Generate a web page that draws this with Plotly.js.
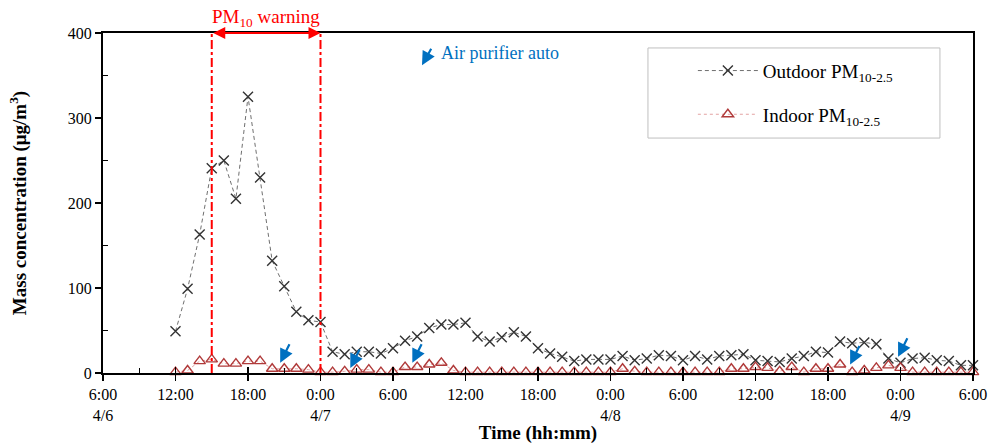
<!DOCTYPE html>
<html><head><meta charset="utf-8">
<script src="https://cdn.plot.ly/plotly-3.0.1.min.js"></script>
<style>html,body{margin:0;padding:0;background:#fff}#chart{width:993px;height:444px}</style>
</head><body><div id="chart"></div>
<script>
// Hourly observations from 4/6 12:00 to 4/9 6:00
const firstObservation = '2020-04-06 12:00';
const outdoorPM = [
  49, 99, 163, 241, 250, 205, 325, 230, 132, 102, 72, 62,
  60, 25, 22, 25, 25, 23, 29, 38, 43, 53, 57, 57, 59, 43, 37, 42, 48, 43, 29, 23, 19, 14, 16, 16,
  16, 20, 15, 17, 21, 20, 15, 20, 16, 20, 21, 22, 15, 14, 13, 17, 20, 25, 24, 37, 35, 36, 34, 17,
  12, 17, 18, 15, 14, 9, 9
];
const indoorPM = [
  1, 3, 14, 16, 11, 11, 14, 14, 5, 5, 5, 4,
  1, 1, 2, 4, 4, 1, 1, 7, 7, 10, 12, 3, 1, 1, 1, 1, 1, 1, 1, 1, 1, 1, 1, 1,
  1, 5, 2, 1, 1, 1, 1, 1, 1, 1, 5, 5, 7, 6, 2, 7, 1, 5, 5, 10, 1, 3, 6, 9,
  6, 1, 1, 1, 1, 1, 1
];
const tickTimes = ['2020-04-06 06:00','2020-04-06 12:00','2020-04-06 18:00','2020-04-07 00:00','2020-04-07 06:00','2020-04-07 12:00','2020-04-07 18:00','2020-04-08 00:00','2020-04-08 06:00','2020-04-08 12:00','2020-04-08 18:00','2020-04-09 00:00','2020-04-09 06:00'];
const tickLabels = ['6:00<br>4/6','12:00','18:00','0:00<br>4/7','6:00','12:00','18:00','0:00<br>4/8','6:00','12:00','18:00','0:00<br>4/9','6:00'];
const minorTickTimes = ['2020-04-06 09:00','2020-04-06 15:00','2020-04-06 21:00','2020-04-07 03:00','2020-04-07 09:00','2020-04-07 15:00','2020-04-07 21:00','2020-04-08 03:00','2020-04-08 09:00','2020-04-08 15:00','2020-04-08 21:00','2020-04-09 03:00'];
const warningStart = '2020-04-06 15:00';
const warningEnd = '2020-04-07 00:00';
const purifierTimes = ['2020-04-06 20:40','2020-04-07 02:28','2020-04-07 07:36','2020-04-08 19:50','2020-04-08 23:48'];
const purifierLevels = [12, 6, 12, 10, 19];
const purifierKeyTime = '2020-04-07 08:24';
const purifierKeyLevel = 362;

function pad(n){return (n<10?'0':'')+n;}
function hourlyTimes(start, n){
  const p = start.split(/[- :]/).map(Number);
  const t0 = Date.UTC(p[0], p[1]-1, p[2], p[3], p[4]);
  const out = [];
  for (let i=0;i<n;i++){
    const d = new Date(t0 + i*3600000);
    out.push(d.getUTCFullYear()+'-'+pad(d.getUTCMonth()+1)+'-'+pad(d.getUTCDate())+' '+pad(d.getUTCHours())+':'+pad(d.getUTCMinutes()));
  }
  return out;
}
const times = hourlyTimes(firstObservation, outdoorPM.length);

const FONT = 'Liberation Serif, Times New Roman, serif';
const BLUE = '#0070C0';
const RED = '#FF0000';

const traces = [
  {x: times, y: outdoorPM, type:'scatter', mode:'lines+markers', name:'Outdoor PM<sub>10-2.5</sub>',
   legendgroup:'a', cliponaxis:false,
   line:{color:'#6f6f6f', width:1, dash:'4px,3px'},
   marker:{symbol:'x-thin-open', size:10, line:{color:'#333333', width:1.4}, color:'#333333'}},
  {x: times, y: indoorPM, type:'scatter', mode:'lines+markers', name:'Indoor PM<sub>10-2.5</sub>',
   legendgroup:'b', cliponaxis:false,
   line:{color:'#E3A3A3', width:1, dash:'dot'},
   marker:{symbol:'triangle-up-open', size:10, line:{color:'#B03A3A', width:1.4}, color:'#B03A3A'}},
  {x: [tickTimes[0]], y: [0], xaxis:'x2', type:'scatter', mode:'markers', showlegend:false,
   hoverinfo:'skip', marker:{opacity:0}}
];

const annotations = [];
purifierTimes.forEach((t,i)=>{
  annotations.push({x:t, y:purifierLevels[i], xref:'x', yref:'y', text:'', showarrow:true,
    ax:10, ay:-20, arrowhead:2, arrowsize:1.25, arrowwidth:2.2, arrowcolor:BLUE, standoff:0});
});
annotations.push({x:purifierKeyTime, y:purifierKeyLevel, xref:'x', yref:'y', text:'', showarrow:true,
  ax:10, ay:-18, arrowhead:2, arrowsize:1.25, arrowwidth:2.2, arrowcolor:BLUE, standoff:0});
annotations.push({x:purifierKeyTime, y:purifierKeyLevel, xref:'x', yref:'y', xanchor:'left', yanchor:'middle',
  xshift:17, yshift:12, text:'Air purifier auto', showarrow:false, font:{family:FONT, size:18, color:BLUE}});
annotations.push({x:warningEnd, y:400, ax:warningStart, ay:400, xref:'x', yref:'y', axref:'x', ayref:'y',
  text:'', showarrow:true, arrowside:'end+start', arrowhead:2, arrowsize:1.2, arrowwidth:2, arrowcolor:RED, standoff:0, startstandoff:0});
annotations.push({x:'2020-04-06 19:30', y:1, xref:'x', yref:'paper', yanchor:'bottom', yshift:1,
  text:'PM<sub>10</sub> warning', showarrow:false, font:{family:FONT, size:19, color:RED}});

const shapes = [
  {type:'line', xref:'x', yref:'y', x0:warningStart, x1:warningStart, y0:0, y1:400, line:{color:RED, width:2, dash:'dashdot'}},
  {type:'line', xref:'x', yref:'y', x0:warningEnd, x1:warningEnd, y0:0, y1:400, line:{color:RED, width:2, dash:'dashdot'}},
  {type:'rect', xref:'paper', yref:'paper', x0:0.6264, x1:0.962, y0:0.691, y1:0.956, line:{color:'#bfbfbf', width:1}, fillcolor:'rgba(0,0,0,0)', layer:'below'}
];

const layout = {
  width:993, height:444,
  margin:{l:103, r:20, t:33, b:71},
  paper_bgcolor:'#fff', plot_bgcolor:'#fff',
  font:{family:FONT, size:16, color:'#000'},
  showlegend:true,
  legend:{x:0.678, y:0.945, xanchor:'left', yanchor:'top', bgcolor:'rgba(0,0,0,0)', borderwidth:0,
    font:{family:FONT, size:19, color:'#000'}, itemwidth:60, tracegroupgap:16},
  xaxis:{type:'date', range:['2020-04-06 06:00','2020-04-09 06:00'], tickmode:'array', tickvals:tickTimes, ticktext:tickLabels,
    ticks:'outside', ticklen:6, tickwidth:1.5, tickcolor:'#000', showgrid:false, zeroline:false,
    showline:true, linecolor:'#000', linewidth:2, mirror:true,
    minor:{tickmode:'array', tickvals:minorTickTimes, ticks:'inside', ticklen:5, tickwidth:1.2, tickcolor:'#000', showgrid:false},
    tickfont:{family:FONT, size:16, color:'#000'},
    title:{text:'<b>Time (hh:mm)</b>', font:{family:FONT, size:19, color:'#000'}, standoff:2}},
  xaxis2:{type:'date', overlaying:'x', anchor:'y', side:'bottom', range:['2020-04-06 06:00','2020-04-09 06:00'],
    tickmode:'array', tickvals:tickTimes, ticks:'inside', ticklen:6, tickwidth:1.5, tickcolor:'#000',
    showticklabels:false, showgrid:false, zeroline:false, showline:false},
  yaxis:{range:[0,400], tickmode:'array', tickvals:[0,100,200,300,400], ticks:'outside', ticklen:6, tickwidth:1.5, tickcolor:'#000',
    showgrid:false, zeroline:false, showline:true, linecolor:'#000', linewidth:2, mirror:true,
    minor:{tickmode:'array', tickvals:[50,150,250,350], ticks:'inside', ticklen:5, tickwidth:1.2, tickcolor:'#000', showgrid:false},
    tickfont:{family:FONT, size:16, color:'#000'},
    title:{text:'<b>Mass concentration (μg/m<sup>3</sup>)</b>', font:{family:FONT, size:19, color:'#000'}, standoff:36}},
  annotations:annotations,
  shapes:shapes
};
Plotly.newPlot('chart', traces, layout, {displayModeBar:false, staticPlot:true});
</script></body></html>
